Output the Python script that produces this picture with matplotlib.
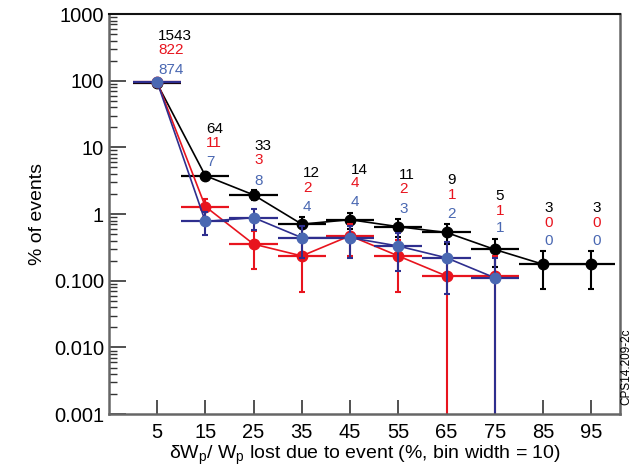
import matplotlib
matplotlib.use("Agg")
import matplotlib.pyplot as plt
from matplotlib.ticker import FixedLocator, LogLocator, NullFormatter

plt.rcParams['font.family'] = ['Liberation Sans', 'DejaVu Sans']
plt.rcParams['mathtext.default'] = 'regular'

# bin centres (% of Wp lost, bin width 10)
bins = [5, 15, 25, 35, 45, 55, 65, 75, 85, 95]
bin_half = 5

# event counts per bin (printed above the points)
counts_black = [1543, 64, 33, 12, 14, 11, 9, 5, 3, 3]
counts_red = [822, 11, 3, 2, 4, 2, 1, 1, 0, 0]
counts_blue = [874, 7, 8, 4, 4, 3, 2, 1, 0, 0]

# % of events and errors
pct_black = [90.9, 3.77, 1.94, 0.707, 0.825, 0.648, 0.530, 0.295, 0.177, 0.177]
err_black = [2.31, 0.471, 0.339, 0.204, 0.220, 0.195, 0.177, 0.132, 0.102, 0.102]

pct_red = [97.2, 1.30, 0.355, 0.236, 0.473, 0.236, 0.118, 0.118]
err_red = [3.39, 0.392, 0.205, 0.167, 0.236, 0.167, 0.118, 0.118]

pct_blue = [96.8, 0.775, 0.886, 0.443, 0.443, 0.332, 0.221, 0.111]
err_blue = [3.27, 0.293, 0.313, 0.221, 0.221, 0.192, 0.157, 0.111]

# heights of the count labels
lab_y_black = [470, 18.7, 10.4, 4.1, 4.6, 3.8, 3.2, 1.85, 1.22, 1.22]
lab_y_red = [285, 11.8, 6.5, 2.45, 2.9, 2.4, 1.95, 1.12, 0.74, 0.74]
lab_y_blue = [147, 6.1, 3.16, 1.28, 1.52, 1.19, 1.0, 0.61, 0.39, 0.39]

BLACK = '#000000'
RED = '#e8141e'
BLUE_LINE = '#2e2e8e'
BLUE_MARK = '#4a68b2'

fig = plt.figure(figsize=(6.44, 4.68), dpi=100)
ax = fig.add_axes([0.169, 0.115, 0.794, 0.855])
ax.set_yscale('log', nonpositive='clip')


def draw(xs, ys, errs, line_col, mark_col):
    n = len(ys)
    x = xs[:n]
    lower = [min(e, y * 0.99999) for y, e in zip(ys, errs)]
    # horizontal bin-width bars, no caps
    ax.errorbar(x, ys, xerr=bin_half, fmt='none', ecolor=line_col,
                elinewidth=1.6, capsize=0)
    # vertical statistical bars, small caps
    ax.errorbar(x, ys, yerr=[lower, errs], fmt='none', ecolor=line_col,
                elinewidth=1.5, capsize=2.5, capthick=1.5)
    ax.plot(x, ys, color=line_col, lw=1.2, marker='o', ms=7.5,
            mfc=mark_col, mec=mark_col)


draw(bins, pct_black, err_black, BLACK, BLACK)
draw(bins, pct_red, err_red, RED, RED)
draw(bins, pct_blue, err_blue, BLUE_LINE, BLUE_MARK)

for i, x in enumerate(bins):
    ax.text(x + 0.2, lab_y_black[i], str(counts_black[i]), color=BLACK,
            fontsize=11, ha='left', va='center')
    ax.text(x + 0.2, lab_y_red[i], str(counts_red[i]), color=RED,
            fontsize=11, ha='left', va='center')
    ax.text(x + 0.2, lab_y_blue[i], str(counts_blue[i]), color=BLUE_MARK,
            fontsize=11, ha='left', va='center')

ax.set_xlim(-5, 101)
ax.set_ylim(0.001, 1000)
ax.xaxis.set_major_locator(FixedLocator(bins))
ax.set_yticks([0.001, 0.01, 0.1, 1, 10, 100, 1000])
ax.set_yticklabels(['0.001', '0.010', '0.100', '1', '10', '100', '1000'])
ax.yaxis.set_minor_locator(LogLocator(base=10, subs=range(2, 10), numticks=20))
ax.yaxis.set_minor_formatter(NullFormatter())

ax.tick_params(axis='both', which='major', direction='in', labelsize=14.5,
               width=1.2, color='#333333')
ax.tick_params(axis='y', which='major', length=12)
ax.tick_params(axis='y', which='minor', direction='in', length=6, width=1.0,
               color='#333333')
ax.tick_params(axis='x', which='major', length=10, pad=6)
ax.tick_params(axis='x', which='minor', bottom=False)

for side in ['left', 'right', 'bottom']:
    ax.spines[side].set_color('#666666')
    ax.spines[side].set_linewidth(1.8)
ax.spines['top'].set_color('#111111')
ax.spines['top'].set_linewidth(1.5)

ax.set_xlabel(r'$\delta$W$_p$/ W$_p$ lost due to event (%, bin width = 10)',
              fontsize=14, labelpad=2)
ax.set_ylabel('% of events', fontsize=14, labelpad=6)

fig.text(0.972, 0.135, 'CPS14.209-2c', rotation=90, fontsize=8.5,
         ha='center', va='bottom')

fig.savefig('out.png', dpi=100)
